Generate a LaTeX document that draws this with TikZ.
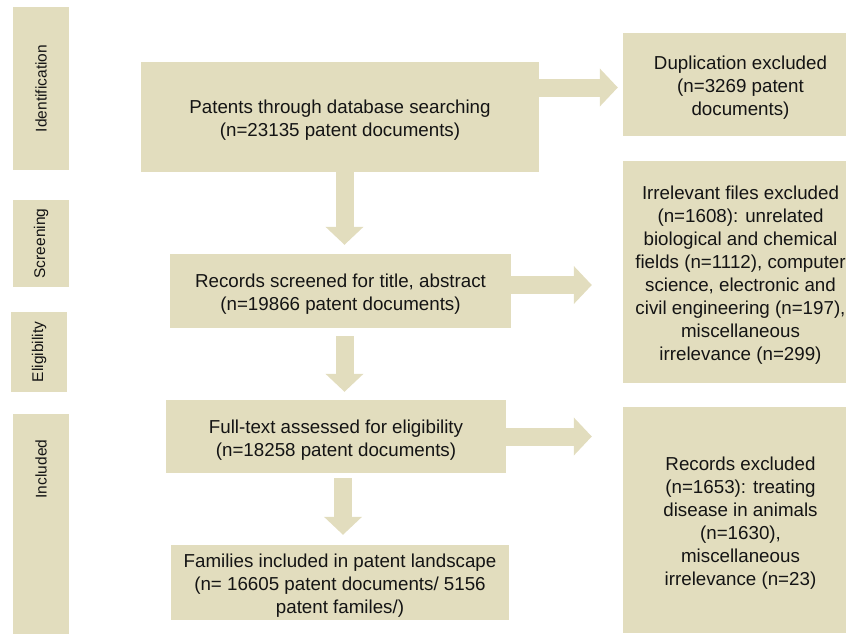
\documentclass[tikz,border=0pt]{standalone}
\usepackage{fontspec}
\setmainfont{Liberation Sans}
\usetikzlibrary{positioning,arrows.meta,calc}
\definecolor{khaki}{RGB}{226,221,190}
\definecolor{ink}{RGB}{20,20,20}
\newcommand{\topstrut}{\rule{0pt}{20pt}}

\begin{document}
\begin{tikzpicture}[x=1pt,y=-1pt,
    box/.style={fill=khaki,inner sep=0pt,align=center,text=ink,font=\fontsize{18.75}{23}\selectfont},
    side/.style={fill=khaki,inner sep=0pt,text=ink,rotate=90,font=\fontsize{15.5}{19}\selectfont},
    arr/.style={draw=khaki,line width=18pt,-{Triangle[length=18pt,width=37pt]}}
  ]
    \clip (0,0) rectangle (846,633);

    % Stage labels
    \node[side,minimum width=163pt,minimum height=56pt] (ident) at (41,88.5) {Identification};
    \node[side,minimum width=87pt,minimum height=56pt] (scr) at (41,243.5) {Screening};
    \node[side,minimum width=80pt,minimum height=56pt] (elig) at (39,352) {Eligibility};
    \fill[khaki] (13,414) rectangle (69,640);
    \node[side] (incl) at (41,469) {Included};

    % Main column
    \node[box,minimum width=398pt,minimum height=110pt] (patents) at (340,117)
      {\topstrut Patents through database searching\\(n=23135 patent documents)};
    \node[box,minimum width=341pt,minimum height=74pt] (screen) at (340.5,291)
      {\topstrut Records screened for title, abstract\\(n=19866 patent documents)};
    \node[box,minimum width=340pt,minimum height=73pt] (full) at (336,436.5)
      {\topstrut Full-text assessed for eligibility\\(n=18258 patent documents)};
    \node[box,minimum width=338pt,minimum height=75pt] (fam) at (340,582.5)
      {\topstrut Families included in patent landscape\\(n= 16605 patent documents/ 5156\\patent familes/)};

    % Exclusions
    \node[box,minimum width=235pt,minimum height=103pt] (dup) at (740.5,84.5)
      {\topstrut Duplication excluded\\(n=3269 patent\\documents)};
    \node[box,minimum width=235pt,minimum height=222pt] (irrel) at (740.5,272)
      {\topstrut Irrelevant files excluded\\(n=1608): unrelated\\biological and chemical\\fields (n=1112), computer\\science, electronic and\\civil engineering (n=197),\\miscellaneous\\irrelevance (n=299)};
    \node[box,minimum width=235pt,minimum height=226pt] (excl) at (740.5,520)
      {\topstrut Records excluded\\(n=1653): treating\\disease in animals\\(n=1630),\\miscellaneous\\irrelevance (n=23)};

    % Arrows
    \draw[arr,shorten >=5pt] ($(patents.east |- dup.west)+(0,3)$) -- ($(dup.west)+(0,3)$);
    \draw[arr,shorten >=31pt] ($(screen.east)+(0,-6)$) -- ($(screen.east -| irrel.west)+(0,-6)$);
    \draw[arr,shorten >=31pt] (full.east) -- (full.east -| excl.west);
    \draw[arr,shorten >=9pt] ($(patents.south)+(4.5,0)$) -- ($(patents.south |- screen.north)+(4.5,0)$);
    \draw[arr,shorten <=8pt,shorten >=8pt] ($(screen.south)+(4,0)$) -- ($(screen.south |- full.north)+(4,0)$);
    \draw[arr,shorten <=5pt,shorten >=10pt] ($(full.south)+(7,0)$) -- ($(full.south |- fam.north)+(7,0)$);
  \end{tikzpicture}
\end{document}
